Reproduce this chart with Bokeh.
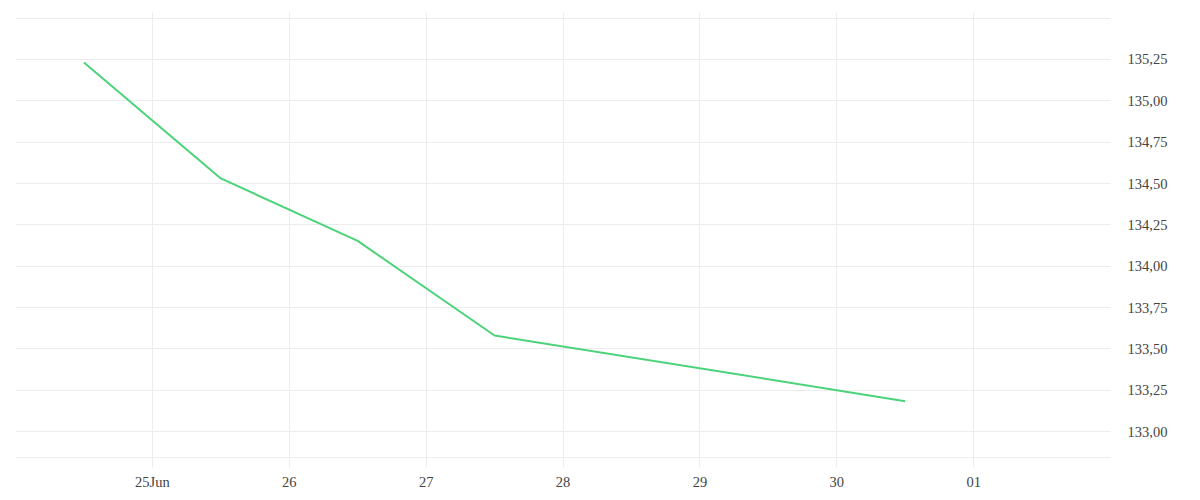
from datetime import datetime
from bokeh.plotting import figure
from bokeh.models import (Range1d, FixedTicker, CustomJSTickFormatter, ColumnDataSource)
from bokeh.embed import file_html
from bokeh.resources import INLINE

# ---- data ----
dates = [datetime(2024, 6, 24, 12), datetime(2024, 6, 25, 12), datetime(2024, 6, 26, 12),
         datetime(2024, 6, 27, 12), datetime(2024, 6, 30, 12)]
values = [135.232, 134.531, 134.153, 133.581, 133.184]

x_tick_dates = [datetime(2024, 6, d) for d in range(25, 31)] + [datetime(2024, 7, 1)]
x_tick_labels = ["25Jun", "26", "27", "28", "29", "30", "01"]
y_ticks = [133.00, 133.25, 133.50, 133.75, 134.00, 134.25, 134.50, 134.75, 135.00, 135.25]
y_grid_extra = [132.843, 135.50]

FONT = "Liberation Serif"
FONT_SIZE = "14.5px"
TEXT_COLOR = "#444444"
LINE_COLOR = "#4cd37a"
GRID_COLOR = "#ececec"

def ms(d):
    return d.timestamp() * 1000.0

p = figure(width=1192, height=492, x_axis_type="datetime", y_axis_location="right",
           output_backend="svg", toolbar_location=None,
           x_range=Range1d(datetime(2024, 6, 24), datetime(2024, 7, 2)),
           y_range=Range1d(132.783, 135.534),
           min_border_left=15, min_border_top=12, min_border_bottom=24, min_border_right=82)
p.outline_line_color = None
p.background_fill_color = "white"
p.border_fill_color = "white"

src = ColumnDataSource(dict(x=dates, y=values))
p.line("x", "y", source=src, line_color=LINE_COLOR, line_width=2)

# x axis
xt = [ms(d) for d in x_tick_dates]
xa = p.xaxis[0]
xa.ticker = FixedTicker(ticks=xt)
xa.formatter = CustomJSTickFormatter(args=dict(tvals=xt, tlabels=x_tick_labels), code="""
    for (let i = 0; i < tvals.length; i++) { if (Math.abs(tvals[i] - tick) < 1000) return tlabels[i]; }
    return '';
""")
xa.axis_line_color = None
xa.major_tick_line_color = None
xa.minor_tick_line_color = None
xa.major_tick_out = 0
xa.major_tick_in = 0
xa.minor_tick_out = 0
xa.major_label_standoff = 6
xa.major_label_text_font = FONT
xa.major_label_text_font_size = FONT_SIZE
xa.major_label_text_color = TEXT_COLOR

# y axis
ya = p.yaxis[0]
ya.ticker = FixedTicker(ticks=y_ticks)
ya.formatter = CustomJSTickFormatter(code="return tick.toFixed(2).replace('.', ',');")
ya.axis_line_color = None
ya.major_tick_line_color = None
ya.minor_tick_line_color = None
ya.major_tick_out = 0
ya.major_tick_in = 0
ya.minor_tick_out = 0
ya.major_label_standoff = 17
ya.major_label_text_font = FONT
ya.major_label_text_font_size = FONT_SIZE
ya.major_label_text_color = TEXT_COLOR

# grids
p.xgrid.ticker = FixedTicker(ticks=[ms(datetime(2024, 6, 24))] + xt + [ms(datetime(2024, 7, 2))])
p.xgrid.grid_line_color = GRID_COLOR
p.ygrid.ticker = FixedTicker(ticks=y_grid_extra + y_ticks)
p.ygrid.grid_line_color = GRID_COLOR

open("out.html", "w").write(file_html(p, INLINE))
